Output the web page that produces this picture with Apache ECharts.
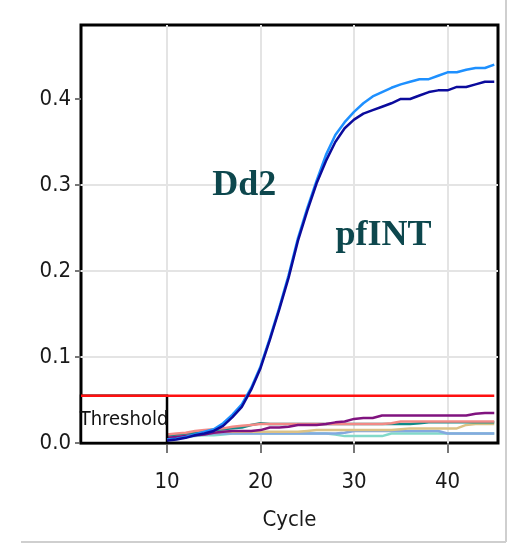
<!DOCTYPE html>
<html>
<head>
<meta charset="utf-8">
<script src="https://cdn.jsdelivr.net/npm/echarts@6/dist/echarts.min.js"></script>
<style>
  html, body { margin: 0; padding: 0; background: #fff; }
  #chart { width: 513px; height: 543px; }
</style>
</head>
<body>
<div id="chart"></div>
<script>
const cycles = [10, 11, 12, 13, 14, 15, 16, 17, 18, 19, 20, 21, 22, 23, 24, 25, 26, 27,
  28, 29, 30, 31, 32, 33, 34, 35, 36, 37, 38, 39, 40, 41, 42, 43, 44, 45];

// the two amplifying samples
const dd2 = [0.004, 0.005, 0.007, 0.010, 0.013, 0.016, 0.023, 0.033, 0.045, 0.064, 0.089, 0.122,
  0.157, 0.195, 0.238, 0.273, 0.305, 0.335, 0.358, 0.373, 0.385, 0.395, 0.403, 0.408,
  0.413, 0.417, 0.420, 0.423, 0.423, 0.427, 0.431, 0.431, 0.434, 0.436, 0.436, 0.440];
const pfint = [0.003, 0.004, 0.006, 0.009, 0.011, 0.014, 0.020, 0.030, 0.042, 0.062, 0.087, 0.120,
  0.155, 0.192, 0.235, 0.270, 0.302, 0.328, 0.350, 0.366, 0.376, 0.383, 0.387, 0.391,
  0.395, 0.400, 0.400, 0.404, 0.408, 0.410, 0.410, 0.414, 0.414, 0.417, 0.420, 0.420];

// flat (non amplifying) traces
const flatPink = [0.010, 0.011, 0.012, 0.014, 0.015, 0.016, 0.017, 0.019, 0.020, 0.021, 0.022, 0.022,
  0.022, 0.022, 0.022, 0.022, 0.022, 0.022, 0.022, 0.022, 0.022, 0.022, 0.022, 0.022,
  0.023, 0.025, 0.025, 0.025, 0.025, 0.025, 0.025, 0.025, 0.025, 0.025, 0.025, 0.025];
const flatTeal = [0.009, 0.010, 0.011, 0.012, 0.013, 0.015, 0.016, 0.017, 0.018, 0.021, 0.023, 0.022,
  0.022, 0.022, 0.022, 0.022, 0.022, 0.022, 0.022, 0.022, 0.022, 0.022, 0.022, 0.022,
  0.022, 0.022, 0.022, 0.023, 0.024, 0.024, 0.024, 0.024, 0.024, 0.024, 0.024, 0.024];
const flatPurple = [0.006, 0.007, 0.008, 0.009, 0.010, 0.012, 0.013, 0.014, 0.014, 0.014, 0.015, 0.018,
  0.018, 0.019, 0.021, 0.021, 0.021, 0.022, 0.024, 0.025, 0.028, 0.029, 0.029, 0.032,
  0.032, 0.032, 0.032, 0.032, 0.032, 0.032, 0.032, 0.032, 0.032, 0.034, 0.035, 0.035];
const flatTan = [0.007, 0.008, 0.009, 0.010, 0.011, 0.012, 0.013, 0.013, 0.013, 0.013, 0.013, 0.013,
  0.013, 0.013, 0.013, 0.014, 0.015, 0.015, 0.015, 0.015, 0.015, 0.015, 0.015, 0.015,
  0.015, 0.016, 0.017, 0.017, 0.017, 0.017, 0.017, 0.017, 0.021, 0.022, 0.022, 0.022];
const flatBlue = [0.006, 0.007, 0.008, 0.009, 0.010, 0.011, 0.011, 0.011, 0.011, 0.011, 0.011, 0.011,
  0.011, 0.011, 0.011, 0.011, 0.011, 0.011, 0.011, 0.012, 0.014, 0.014, 0.014, 0.014,
  0.014, 0.014, 0.014, 0.014, 0.014, 0.014, 0.011, 0.011, 0.011, 0.011, 0.011, 0.011];
const flatAqua = [0.005, 0.006, 0.007, 0.008, 0.009, 0.009, 0.010, 0.011, 0.011, 0.011, 0.011, 0.011,
  0.011, 0.011, 0.011, 0.011, 0.011, 0.011, 0.010, 0.008, 0.008, 0.008, 0.008, 0.008,
  0.011, 0.011, 0.011, 0.011, 0.011, 0.011, 0.011, 0.011, 0.011, 0.011, 0.011, 0.011];

const threshold = 0.055;
const xTicks = [10, 20, 30, 40];
const yTicks = [0, 0.1, 0.2, 0.3, 0.4];
const xMin = 0.8;
const xMax = 45.4;
const yMax = 0.486;

const labelTexts = ['Dd2', 'pfINT'];
const labelCycles = [18.25, 33.15];
const labelValues = [0.299, 0.241];

const narrow = "'Liberation Sans Narrow', 'DejaVu Sans Condensed', 'Liberation Sans', sans-serif";

function pairs(vals) {
  return cycles.map((c, i) => [c, vals[i]]);
}

function trace(name, vals, color, width, z) {
  return {
    name: name,
    type: 'line',
    data: pairs(vals),
    symbol: 'none',
    z: z,
    lineStyle: { color: color, width: width },
    silent: true,
  };
}

const chart = echarts.init(document.getElementById('chart'));
chart.setOption({
  animation: false,
  backgroundColor: '#fff',
  grid: {
    left: 81,
    right: 15,
    top: 25,
    bottom: 100,
    show: true,
    borderColor: '#000',
    borderWidth: 3,
    backgroundColor: 'transparent',
  },
  graphic: [
    { type: 'line', shape: { x1: 506, y1: 0, x2: 506, y2: 542 }, style: { stroke: '#cfcfcf', lineWidth: 2 } },
    { type: 'line', shape: { x1: 21, y1: 542, x2: 506, y2: 542 }, style: { stroke: '#cfcfcf', lineWidth: 2 } },
  ],
  xAxis: {
    type: 'value',
    min: xMin,
    max: xMax,
    axisLine: { show: false },
    axisTick: { show: true, customValues: xTicks, length: 10, lineStyle: { color: '#777', width: 2 } },
    axisLabel: { customValues: xTicks, fontSize: 22, fontFamily: narrow, color: '#1a1a1a', margin: 28 },
    splitLine: { show: false },
    name: 'Cycle',
    nameLocation: 'middle',
    nameGap: 66,
    nameTextStyle: { fontSize: 22, fontFamily: narrow, color: '#1a1a1a' },
  },
  yAxis: {
    type: 'value',
    min: 0,
    max: yMax,
    interval: 0.1,
    axisLine: { show: false },
    axisTick: { show: true, customValues: yTicks, length: 6, lineStyle: { color: '#777', width: 2 } },
    axisLabel: {
      customValues: yTicks,
      fontSize: 22,
      fontFamily: narrow,
      color: '#1a1a1a',
      margin: 10,
      formatter: v => v.toFixed(1),
    },
    splitLine: { showMaxLine: false, showMinLine: false, lineStyle: { color: '#e4e4e4', width: 2 } },
  },
  series: [
    {
      name: 'grid',
      type: 'line',
      data: [],
      z: 1,
      silent: true,
      markLine: {
        z: 1,
        silent: true,
        symbol: 'none',
        label: { show: false },
        lineStyle: { color: '#e4e4e4', width: 2, type: 'solid' },
        data: xTicks.map(t => ({ xAxis: t })),
      },
    },
    trace('aqua', flatAqua, '#82d9c9', 2.5, 2),
    trace('blue', flatBlue, '#84a9e0', 2.5, 2),
    trace('tan', flatTan, '#dcc285', 2.5, 2),
    trace('teal', flatTeal, '#108a86', 2.5, 2),
    trace('pink', flatPink, '#f28a86', 2.5, 2),
    trace('purple', flatPurple, '#80137f', 2.5, 2),
    {
      name: 'threshold',
      type: 'line',
      data: [[xMin, threshold], [45, threshold]],
      symbol: 'none',
      z: 3,
      silent: true,
      lineStyle: { color: '#ff1010', width: 2.5 },
      markArea: {
        z: 2.5,
        silent: true,
        itemStyle: { color: '#fff', opacity: 1, borderColor: '#000', borderWidth: 2.5 },
        label: { show: true, position: 'inside', fontSize: 20, fontFamily: narrow, color: '#111' },
        data: [[{ name: 'Threshold', coord: [xMin, 0] }, { coord: [10, threshold] }]],
      },
    },
    trace('Dd2', dd2, '#1e90ff', 2.5, 4),
    trace('pfINT', pfint, '#0b0b9c', 2.5, 5),
    {
      name: 'labels',
      type: 'scatter',
      symbolSize: 0,
      z: 6,
      silent: true,
      itemStyle: { opacity: 1 },
      data: labelTexts.map((t, i) => [labelCycles[i], labelValues[i], t]),
      label: {
        show: true,
        position: 'inside',
        formatter: p => p.value[2],
        fontFamily: "'Liberation Serif', 'DejaVu Serif', serif",
        fontWeight: 'bold',
        fontSize: 36,
        color: '#0d474d',
        opacity: 1,
        textBorderWidth: 0,
        textBorderColor: 'transparent',
      },
    },
  ],
});
</script>
</body>
</html>
